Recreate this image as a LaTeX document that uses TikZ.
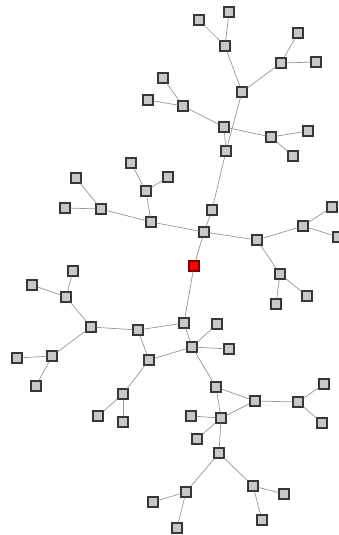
\documentclass[tikz,border=0pt]{standalone}
\definecolor{NodeFill}{RGB}{200,200,200}
\definecolor{NodeBorder}{RGB}{55,55,55}
\definecolor{EdgeColor}{RGB}{150,150,150}
\definecolor{RootFill}{RGB}{255,0,0}
\definecolor{RootBorder}{RGB}{120,0,0}
\usepackage{tikz}
\usetikzlibrary{positioning}

\begin{document}
\begin{tikzpicture}[x=1pt, y=-1pt,
    vertex/.style={rectangle, draw=NodeBorder, fill=NodeFill, line width=1.3pt, minimum size=10pt, inner sep=0pt},
    rootvertex/.style={vertex, draw=RootBorder, fill=RootFill},
    link/.style={draw=EdgeColor, line width=0.7pt}]
          \useasboundingbox (0,0) rectangle (339,535);
          % upper branch
          \node[vertex] (v1) at (229,12) {};
          \node[vertex] (v2) at (199,20) {};
          \node[vertex] (v3) at (225,46) {};
          \node[vertex] (v4) at (298,33) {};
          \node[vertex] (v5) at (281,63) {};
          \node[vertex] (v6) at (316,62) {};
          \node[vertex] (v7) at (242,92) {};
          \node[vertex] (v8) at (163,78) {};
          \node[vertex] (v9) at (148,100) {};
          \node[vertex] (v10) at (183,106) {};
          \node[vertex] (v11) at (224,127) {};
          \node[vertex] (v12) at (271,137) {};
          \node[vertex] (v13) at (308,131) {};
          \node[vertex] (v14) at (293,156) {};
          \node[vertex] (v15) at (226,151) {};
          \node[vertex] (v16) at (131,163) {};
          \node[vertex] (v17) at (76,178) {};
          \node[vertex] (v18) at (146,191) {};
          \node[vertex] (v19) at (65,208) {};
          \node[vertex] (v20) at (101,209) {};
          \node[vertex] (v21) at (151,222) {};
          \node[vertex] (v22) at (212,210) {};
          \node[vertex] (v23) at (204,232) {};
          \node[vertex] (v24) at (257,240) {};
          \node[vertex] (v25) at (303,226) {};
          \node[vertex] (v26) at (332,207) {};
          \node[vertex] (v27) at (338,237) {};
          \node[vertex] (v29) at (280,274) {};
          \node[vertex] (v30) at (307,296) {};
          \node[vertex] (v31) at (276,304) {};
          \node[vertex] (v63) at (168,177) {};
          % root
          \node[rootvertex] (root) at (194,266) {};
          % lower branch
          \node[vertex] (v32) at (73,271) {};
          \node[vertex] (v33) at (32,285) {};
          \node[vertex] (v34) at (66,297) {};
          \node[vertex] (v35) at (91,327) {};
          \node[vertex] (v36) at (138,330) {};
          \node[vertex] (v37) at (184,323) {};
          \node[vertex] (v38) at (217,324) {};
          \node[vertex] (v39) at (192,347) {};
          \node[vertex] (v40) at (229,349) {};
          \node[vertex] (v41) at (17,358) {};
          \node[vertex] (v42) at (52,356) {};
          \node[vertex] (v43) at (36,386) {};
          \node[vertex] (v44) at (149,360) {};
          \node[vertex] (v45) at (123,394) {};
          \node[vertex] (v46) at (98,416) {};
          \node[vertex] (v47) at (123,422) {};
          \node[vertex] (v48) at (216,387) {};
          \node[vertex] (v49) at (255,401) {};
          \node[vertex] (v50) at (298,402) {};
          \node[vertex] (v51) at (324,384) {};
          \node[vertex] (v52) at (322,423) {};
          \node[vertex] (v53) at (191,416) {};
          \node[vertex] (v54) at (221,418) {};
          \node[vertex] (v55) at (197,439) {};
          \node[vertex] (v56) at (219,453) {};
          \node[vertex] (v57) at (186,492) {};
          \node[vertex] (v58) at (153,502) {};
          \node[vertex] (v59) at (177,528) {};
          \node[vertex] (v60) at (253,486) {};
          \node[vertex] (v61) at (284,494) {};
          \node[vertex] (v62) at (262,520) {};
          % edges, upper branch
          \draw[link] (v1) -- (v3);
          \draw[link] (v2) -- (v3);
          \draw[link] (v3) -- (v7);
          \draw[link] (v4) -- (v5);
          \draw[link] (v6) -- (v5);
          \draw[link] (v5) -- (v7);
          \draw[link] (v7) -- (v15);
          \draw[link] (v8) -- (v10);
          \draw[link] (v9) -- (v10);
          \draw[link] (v10) -- (v11);
          \draw[link] (v11) -- (v12);
          \draw[link] (v12) -- (v13);
          \draw[link] (v12) -- (v14);
          \draw[link] (v11) -- (v15);
          \draw[link] (v15) -- (v22);
          \draw[link] (v22) -- (v23);
          \draw[link] (v16) -- (v18);
          \draw[link] (v63) -- (v18);
          \draw[link] (v18) -- (v21);
          \draw[link] (v17) -- (v20);
          \draw[link] (v19) -- (v20);
          \draw[link] (v20) -- (v21);
          \draw[link] (v21) -- (v23);
          \draw[link] (v23) -- (v24);
          \draw[link] (v24) -- (v25);
          \draw[link] (v25) -- (v26);
          \draw[link] (v25) -- (v27);
          \draw[link] (v24) -- (v29);
          \draw[link] (v29) -- (v30);
          \draw[link] (v29) -- (v31);
          \draw[link] (v23) -- (root);
          % edges, lower branch
          \draw[link] (root) -- (v37);
          \draw[link] (v37) -- (v36);
          \draw[link] (v37) -- (v39);
          \draw[link] (v38) -- (v39);
          \draw[link] (v39) -- (v40);
          \draw[link] (v36) -- (v35);
          \draw[link] (v35) -- (v34);
          \draw[link] (v34) -- (v32);
          \draw[link] (v34) -- (v33);
          \draw[link] (v35) -- (v42);
          \draw[link] (v42) -- (v41);
          \draw[link] (v42) -- (v43);
          \draw[link] (v36) -- (v44);
          \draw[link] (v44) -- (v39);
          \draw[link] (v44) -- (v45);
          \draw[link] (v45) -- (v46);
          \draw[link] (v45) -- (v47);
          \draw[link] (v39) -- (v48);
          \draw[link] (v48) -- (v49);
          \draw[link] (v48) -- (v54);
          \draw[link] (v49) -- (v54);
          \draw[link] (v49) -- (v50);
          \draw[link] (v50) -- (v51);
          \draw[link] (v50) -- (v52);
          \draw[link] (v54) -- (v53);
          \draw[link] (v54) -- (v55);
          \draw[link] (v54) -- (v56);
          \draw[link] (v56) -- (v57);
          \draw[link] (v56) -- (v60);
          \draw[link] (v57) -- (v58);
          \draw[link] (v57) -- (v59);
          \draw[link] (v60) -- (v61);
          \draw[link] (v60) -- (v62);
        \end{tikzpicture}
\end{document}
